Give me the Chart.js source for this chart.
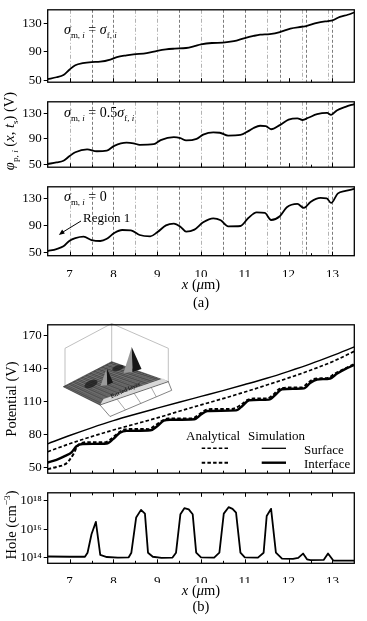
<!DOCTYPE html>
<html><head><meta charset="utf-8">
<script src="https://cdn.jsdelivr.net/npm/chart.js@4.4.1/dist/chart.umd.min.js"></script>
<style>
html,body{margin:0;padding:0;background:#fff;}
#wrap{position:relative;width:367px;height:621px;overflow:hidden;font-family:"Liberation Serif","Times New Roman",serif;color:#000;}
canvas{position:absolute;left:0;}
.t{position:absolute;white-space:nowrap;line-height:1;}
.rot{transform:translate(-50%,-50%) rotate(-90deg);}
.c{transform:translate(-50%,-50%);}
.l{transform:translate(0,-50%);}
sub,sup{font-size:64%;line-height:0;}
svg{position:absolute;left:0;top:0;}
</style></head>
<body><div id="wrap">
<canvas id="a1" width="367" height="92" style="top:0px"></canvas>
<canvas id="a2" width="367" height="85" style="top:92px"></canvas>
<canvas id="a3" width="367" height="100" style="top:177px"></canvas>
<canvas id="b1" width="367" height="168" style="top:315px"></canvas>
<canvas id="b2" width="367" height="100" style="top:483px"></canvas>

<div class="t rot" style="left:9px;top:131px;font-size:14.5px"><i>φ</i><sub>p, <i>i</i></sub> (<i>x</i>, <i>t</i><sub>s</sub>) (V)</div>
<div class="t rot" style="left:11px;top:399px;font-size:14.5px">Potential (V)</div>
<div class="t rot" style="left:11px;top:525px;font-size:14.5px">Hole (cm<sup>−3</sup>)</div>
<div class="t c" style="left:201px;top:284px;font-size:14.5px"><i>x</i> (<i>μ</i>m)</div>
<div class="t c" style="left:201px;top:302px;font-size:14.5px">(a)</div>
<div class="t c" style="left:201px;top:590px;font-size:14.5px"><i>x</i> (<i>μ</i>m)</div>
<div class="t c" style="left:201px;top:606px;font-size:14.5px">(b)</div>

<div class="t l" style="left:64px;top:30px;font-size:14px"><i>σ</i><sub>m, <i>i</i></sub> = <i>σ</i><sub>f, <i>i</i></sub></div>
<div class="t l" style="left:64px;top:113px;font-size:14px"><i>σ</i><sub>m, <i>i</i></sub> = 0.5<i>σ</i><sub>f, <i>i</i></sub></div>
<div class="t l" style="left:64px;top:197px;font-size:14px"><i>σ</i><sub>m, <i>i</i></sub> = 0</div>
<div class="t l" style="left:83px;top:217px;font-size:13px">Region 1</div>

<div class="t l" style="left:186px;top:435px;font-size:13px">Analytical</div>
<div class="t l" style="left:248px;top:435px;font-size:13px">Simulation</div>
<div class="t l" style="left:304px;top:448.5px;font-size:13px">Surface</div>
<div class="t l" style="left:304px;top:463px;font-size:13px">Interface</div>

<svg width="367" height="621">
  <line x1="81" y1="221" x2="63" y2="232" stroke="#000" stroke-width="1"/>
  <polygon points="58.8,235 64.8,233.6 62.2,229.4" fill="#000"/>
  <line x1="201.7" y1="448.3" x2="228.3" y2="448.3" stroke="#000" stroke-width="1.6" stroke-dasharray="3.5 2.2"/>
  <line x1="201.7" y1="462.7" x2="228.3" y2="462.7" stroke="#000" stroke-width="2" stroke-dasharray="3.5 2.2"/>
  <line x1="261.7" y1="448.3" x2="286" y2="448.3" stroke="#000" stroke-width="1.3"/>
  <line x1="261.7" y1="462.7" x2="286" y2="462.7" stroke="#000" stroke-width="2.4"/>
</svg>
</div>
<script>
// ---------- data ----------
const xTicks = [7,7.5,8,8.5,9,9.5,10,10.5,11,11.5,12,12.5,13];
const regionLines = [7.0,7.5,8.0,8.5,9.0,9.5,10.0,10.5,11.0,11.5,11.8,12.3,12.4,12.9,13.0];
const darkLines = [7.5,8.0,9.5,10.5,11.0,11.8,12.4,13.0];
const phiTicks = [50,90,130];
const potTicks = [50,80,110,140,170];
const holeTicks = [1e14,1e15,1e16,1e17,1e18];
const holeTickLabels = ['10¹⁴','','10¹⁶','','10¹⁸'];

// (a) sigma_m = sigma_f
const phiEqual = [[6.5,51.3],[6.7,54],[6.86,57.3],[7.0,65],[7.13,71],[7.3,74],[7.5,75.5],[7.7,76],[7.93,79],[8.08,82.5],[8.3,85],[8.46,86.4],[8.76,88.3],[9.0,91.5],[9.2,93.5],[9.4,94.5],[9.66,95.4],[9.85,98],[10.0,100.5],[10.25,102.5],[10.5,103],[10.75,105],[11.0,109.5],[11.2,112.5],[11.35,114.3],[11.57,115.2],[11.8,118],[12.04,123],[12.3,125.5],[12.4,126.5],[12.65,131],[12.9,133.6],[13.0,134.5],[13.17,139.5],[13.35,142.5],[13.5,145.7]];
// (a) sigma_m = 0.5 sigma_f
const phiHalf = [[6.5,50.5],[6.7,53],[6.86,55.5],[7.0,63],[7.13,69],[7.4,73.5],[7.62,70.5],[7.85,71.5],[8.02,79],[8.3,84],[8.46,83],[8.6,80.5],[8.92,81.5],[9.08,88],[9.38,92.5],[9.53,91],[9.66,87.5],[9.9,90],[10.05,96.5],[10.28,100],[10.43,99.5],[10.62,95],[10.9,96],[11.08,102],[11.2,107],[11.35,110.5],[11.48,110],[11.6,105],[11.8,111.5],[12.0,120],[12.2,122],[12.32,119.5],[12.45,123],[12.65,128.5],[12.88,130.5],[12.97,127.5],[13.1,134.5],[13.3,140],[13.5,144.5]];
// (a) sigma_m = 0
const phiZero = [[6.5,52],[6.7,55],[6.86,59],[7.0,67.5],[7.13,71.3],[7.32,73.5],[7.5,68.5],[7.7,67],[7.85,70.3],[8.02,79],[8.2,83.5],[8.4,83],[8.6,76],[8.84,74],[9.0,80],[9.2,90.5],[9.38,93],[9.53,88.5],[9.66,81],[9.85,84],[10.05,95],[10.28,101],[10.45,98],[10.62,89],[10.9,89.5],[11.08,101.5],[11.27,110],[11.46,109],[11.6,98.5],[11.8,104],[11.96,117.5],[12.2,122.5],[12.35,116.5],[12.5,125.5],[12.73,131.5],[12.87,131],[12.97,124],[13.12,138],[13.3,142],[13.5,145]];

// (b) potentials
const surfSim = [[6.5,71.5],[7,79],[7.5,86],[8,92.5],[8.5,98.3],[9,103.8],[9.5,109.2],[10,114.5],[10.5,119.8],[11,125.3],[11.5,131],[12,137.3],[12.5,144],[13,151.5],[13.5,159.5]];
const surfAna = [[6.5,64.3],[7,71.5],[7.5,78],[8,84],[8.5,89.5],[9,95],[9.5,101],[10,106.8],[10.5,112.5],[11,118.5],[11.5,124.8],[12,131.3],[12.5,138.3],[13,146],[13.5,155.5]];
const intSim = [[6.5,54.5],[6.7,57],[6.9,60.5],[7.05,64],[7.15,69],[7.3,71.3],[7.85,71.8],[8.0,76],[8.15,81.5],[8.3,83.2],[8.85,83.8],[9.0,87.5],[9.15,92.5],[9.3,93.3],[9.85,93.8],[10.0,98],[10.15,101.3],[10.8,101.8],[10.95,106],[11.1,111],[11.55,111.6],[11.7,116],[11.85,121],[12.35,121.8],[12.5,127],[12.65,129.8],[12.95,130.8],[13.1,135],[13.3,139.5],[13.5,143]];
const intAna = [[6.5,48.5],[6.7,50.5],[6.9,53],[7.0,57],[7.1,63],[7.17,69],[7.3,72.5],[7.5,73],[7.8,72.8],[7.95,76],[8.1,81],[8.25,84.5],[8.5,85],[8.8,84.8],[8.95,88],[9.1,92],[9.25,94.5],[9.5,94.5],[9.8,94.5],[9.95,98],[10.1,102],[10.25,103],[10.7,103],[10.9,106.5],[11.05,111],[11.2,112.5],[11.5,112.5],[11.65,116],[11.8,121.5],[12.0,122.5],[12.3,122.5],[12.45,127],[12.6,130.5],[12.9,131.3],[13.05,135],[13.3,140],[13.5,144]];

// (b) hole concentration (cm^-3)
const hole = [[6.5,1.25e14],[7.0,1.2e14],[7.35,1.2e14],[7.41,2.3e14],[7.5,4.4e15],[7.6,3.2e16],[7.7,1.6e14],[7.85,1.15e14],[8.1,1.05e14],[8.35,1.1e14],[8.41,2.3e14],[8.52,6.6e16],[8.63,2.2e17],[8.72,1.2e17],[8.79,2.3e14],[8.9,1.2e14],[9.1,1.0e14],[9.35,1.05e14],[9.43,2.3e14],[9.53,1.1e17],[9.62,2.9e17],[9.72,2.4e17],[9.81,1.1e17],[9.89,2.3e14],[10.0,1.1e14],[10.3,1.05e14],[10.42,2.3e14],[10.52,1.2e17],[10.63,3.4e17],[10.72,2.6e17],[10.8,1.4e17],[10.9,2.3e14],[11.0,1.1e14],[11.3,1.05e14],[11.43,2.3e14],[11.5,8.3e16],[11.6,2.6e17],[11.71,2.3e14],[11.85,9e13],[12.1,8.5e13],[12.22,1.0e14],[12.33,2.0e14],[12.42,8e13],[12.5,7e13],[12.8,7.2e13],[12.9,2.0e14],[13.02,6.5e13],[13.5,6.5e13]];

// ---------- helpers ----------
const FAM = "'Liberation Serif','Times New Roman',serif";
const pts = a => a.map(p => ({x:p[0], y:p[1]}));
function ds(arr, w, dash, smooth){
  return {data:pts(arr), borderColor:'#000', borderWidth:w, borderDash:dash||[], pointRadius:0,
    fill:false, tension:0, cubicInterpolationMode: smooth===false ? 'default' : 'monotone', borderCapStyle:'butt', borderJoinStyle:'round'};
}

function drawInset(ctx, oy){
  ctx.save();
  ctx.translate(0,-oy);
  const seg=(x1,y1,x2,y2)=>{ctx.beginPath();ctx.moveTo(x1,y1);ctx.lineTo(x2,y2);ctx.stroke();};
  const poly=(p,fill,stroke,lw)=>{ctx.beginPath();p.forEach((q,i)=>i?ctx.lineTo(q[0],q[1]):ctx.moveTo(q[0],q[1]));ctx.closePath();
    if(fill){ctx.fillStyle=fill;ctx.fill();} if(stroke){ctx.strokeStyle=stroke;ctx.lineWidth=lw||0.6;ctx.stroke();}};
  const lerp=(a,b,t)=>[a[0]+(b[0]-a[0])*t, a[1]+(b[1]-a[1])*t];
  ctx.strokeStyle='#a5a5a5'; ctx.lineWidth=0.7;
  seg(111.7,323.5,65,348.3); seg(111.7,323.5,168.3,348.3);
  seg(65,348.3,65,387); seg(168.3,348.3,168.3,382); seg(111.7,323.5,111.7,362);
  const A=[63.3,386.7],B=[111.7,361.7],C=[168.3,381.7],D=[100,405];
  poly([A,B,C,D],'#4d4d4d','#222',0.6);
  ctx.strokeStyle='#8a8a8a'; ctx.lineWidth=0.45;
  for(let i=1;i<18;i++){const t=i/18; const p=lerp(A,D,t), q=lerp(B,C,t); seg(p[0],p[1],q[0],q[1]);}
  for(let i=1;i<12;i++){const t=i/12; const p=lerp(A,B,t), q=lerp(D,C,t); seg(p[0],p[1],q[0],q[1]);}
  // darker hollows
  ctx.fillStyle='rgba(20,20,20,0.7)';
  ctx.beginPath(); ctx.ellipse(91,384,7,3.5,-0.4,0,Math.PI*2); ctx.fill();
  ctx.beginPath(); ctx.ellipse(118,368,6,2.5,-0.3,0,Math.PI*2); ctx.fill();
  // light buried-layer band near the front edge
  poly([D,C,[163,378.5],[103.5,399]],'#d8d8d8');
  // peaks
  poly([[123.5,373],[131.7,347],[132.5,372]],'#9a9a9a');
  poly([[132.5,372],[131.7,347],[141.5,369]],'#161616');
  poly([[100.5,386],[106.7,368],[107.3,385]],'#9a9a9a');
  poly([[107.3,385],[106.7,368],[113,382.5]],'#161616');
  // front face
  const E=[171.7,390.3], F=[110,416.5];
  poly([D,C,E,F],'#fff','#333',0.6);
  ctx.strokeStyle='#555'; ctx.lineWidth=0.5;
  for(const t of [0.25,0.5,0.75]){const p=lerp(D,C,t), q=lerp(F,E,t); seg(p[0],p[1],q[0],q[1]);}
  ctx.fillStyle='#222';
  ctx.font = "bold 6px "+FAM;
  ctx.translate(128,391); ctx.rotate(-0.42);
  ctx.fillText('Buried layer',-18,0);
  ctx.restore();
}

const deco = {
  id:'deco',
  beforeDatasetsDraw(chart, args, o){
    const {ctx, chartArea:ar, scales} = chart;
    if(o.vlines){
      ctx.save(); ctx.beginPath(); ctx.rect(ar.left, ar.top, ar.width, ar.height); ctx.clip();
      regionLines.forEach(v=>{
        const dark = darkLines.includes(v);
        const px = Math.round(scales.x.getPixelForValue(v))+0.5;
        ctx.strokeStyle = dark ? '#5a5a5a' : '#a0a0a0';
        ctx.setLineDash(dark ? [3,2] : [4,2,1,2]);
        ctx.lineWidth = 0.8;
        ctx.beginPath(); ctx.moveTo(px, ar.top); ctx.lineTo(px, ar.bottom); ctx.stroke();
      });
      ctx.restore();
    }
    if(o.inset!==undefined) drawInset(ctx, o.inset);
  },
  afterDraw(chart, args, o){
    const {ctx, chartArea:ar, scales} = chart;
    ctx.save();
    ctx.strokeStyle='#000'; ctx.setLineDash([]);
    ctx.lineWidth=1;
    xTicks.forEach(v=>{
      const px = Math.round(scales.x.getPixelForValue(v))+0.5;
      const len = Number.isInteger(v) ? 4 : 2.5;
      if(o.bottomTicks){ctx.beginPath(); ctx.moveTo(px, ar.bottom); ctx.lineTo(px, ar.bottom-len); ctx.stroke();}
      if(o.topTicks){ctx.beginPath(); ctx.moveTo(px, ar.top); ctx.lineTo(px, ar.top+len); ctx.stroke();}
    });
    ctx.lineWidth=1.3;
    ctx.strokeRect(ar.left, ar.top, ar.width, ar.height);
    ctx.restore();
  }
};
Chart.register(deco);

function makeChart(id, cfg){
  const yScale = {
    type: cfg.log ? 'logarithmic' : 'linear',
    min: cfg.yMin, max: cfg.yMax,
    afterBuildTicks: s => { s.ticks = cfg.yTicks.map(v=>({value:v})); },
    afterFit: s => { s.width = 47.7; },
    ticks:{ color:'#000', font:{family:FAM, size:13}, padding:2,
      callback: (v,i) => cfg.yLabels ? cfg.yLabels[i] : String(v) },
    grid:{ display:true, drawOnChartArea:false, drawTicks:true, tickLength:4, color:'#000', lineWidth:1 },
    border:{ display:false }
  };
  const xScale = {
    type:'linear', min:6.5, max:13.5,
    display: cfg.showX,
    afterBuildTicks: s => { s.ticks = xTicks.map(v=>({value:v})); },
    afterFit: s => { if(cfg.showX) s.height = cfg.xH; },
    ticks:{ color:'#000', font:{family:FAM, size:13}, padding:cfg.xPad||3, autoSkip:false, maxRotation:0, minRotation:0,
      callback: v => Number.isInteger(v) ? String(v) : '' },
    grid:{ display:false }, border:{ display:false }
  };
  return new Chart(document.getElementById(id), {
    type:'line',
    data:{ datasets: cfg.datasets },
    options:{
      responsive:false, animation:false, devicePixelRatio:1,
      layout:{ padding:{ left:0, right:12.7, top:cfg.padTop, bottom:cfg.padBottom } },
      scales:{ x:xScale, y:yScale },
      plugins:{ legend:{display:false}, tooltip:{enabled:false},
        deco:{ vlines:!!cfg.vlines, inset:cfg.inset, bottomTicks:true, topTicks:!!cfg.topTicks } }
    }
  });
}

makeChart('a1', {datasets:[ds(phiEqual,1.8)], yMin:47, yMax:149.5, yTicks:phiTicks, padTop:9, padBottom:7, showX:false, vlines:true});
makeChart('a2', {datasets:[ds(phiHalf,1.8)], yMin:45.5, yMax:148, yTicks:phiTicks, padTop:2, padBottom:7, showX:false, vlines:true});
makeChart('a3', {datasets:[ds(phiZero,1.8)], yMin:45, yMax:148.2, yTicks:phiTicks, padTop:2.3, padBottom:0, showX:true, xH:21.3, xPad:3, vlines:true});
makeChart('b1', {datasets:[ds(surfSim,1.4), ds(surfAna,1.7,[3.5,2.2]), ds(intSim,2.4), ds(intAna,2,[3.5,2.2])],
  yMin:44.8, yMax:179.5, yTicks:potTicks, padTop:7.7, padBottom:3.7, showX:false, inset:315});
makeChart('b2', {datasets:[ds(hole,1.8,[],false)], log:true, yMin:4.2e13, yMax:3.4e18, yTicks:holeTicks, yLabels:holeTickLabels,
  padTop:3.7, padBottom:0, showX:true, xH:19.7, xPad:2.5, topTicks:true});
</script>
</body></html>
